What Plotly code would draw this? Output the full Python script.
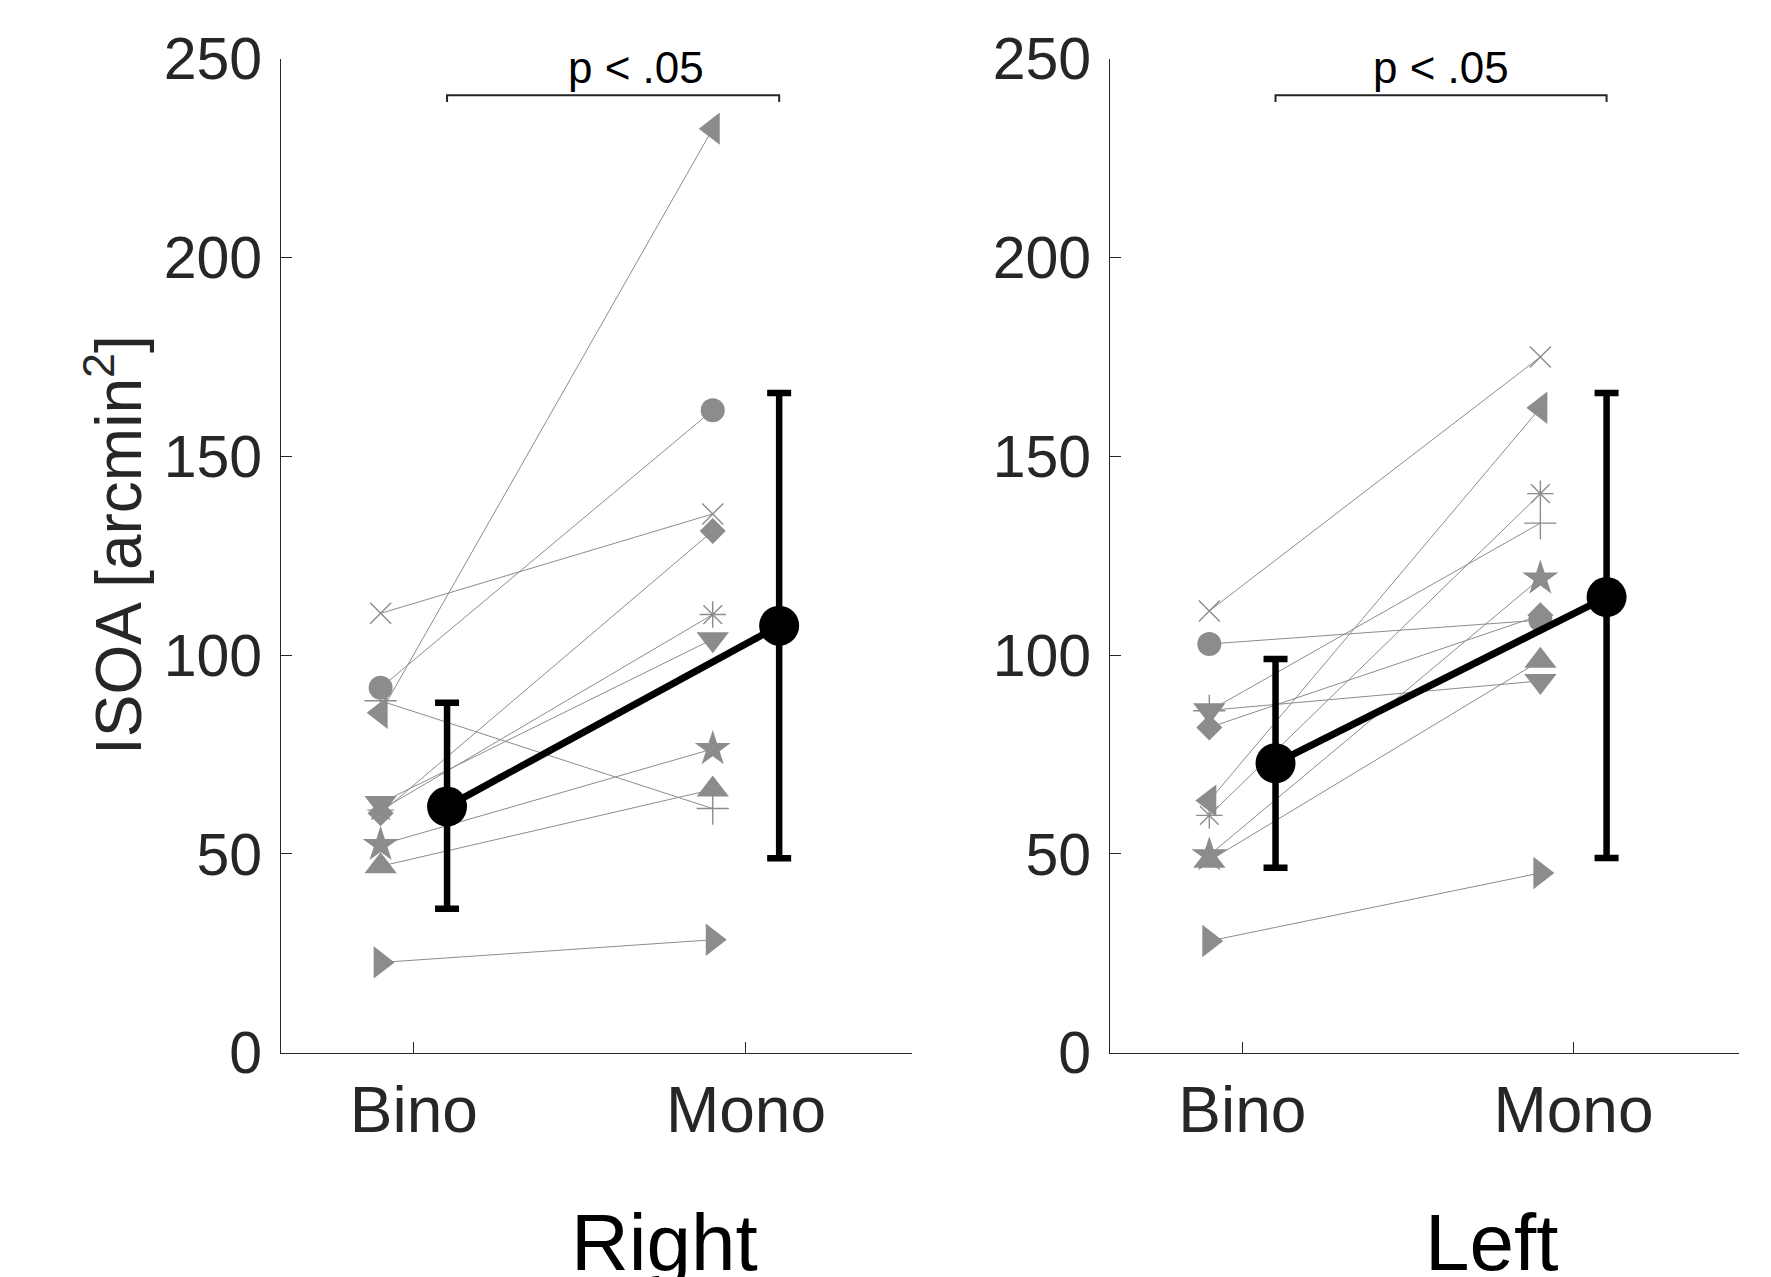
import plotly.graph_objects as go

# ---------------- data ----------------
conditions = ["Bino", "Mono"]
cond_x = [1, 2]
panel_titles = ["Right", "Left"]
y_ticks = [0, 50, 100, 150, 200, 250]

subject_symbols = ["x-thin-open", "circle", "cross-thin-open", "triangle-left",
                   "triangle-down", "diamond", "asterisk-open", "star",
                   "triangle-up", "triangle-right"]

# Right eye (left panel)
right_bino = [110.5, 91.8, 88.5, 85.5, 62.8, 60.2, 61.0, 52.3, 46.9, 22.7]
right_mono = [135.5, 161.6, 61.4, 232.4, 104.0, 131.2, 110.2, 76.4, 66.2, 28.4]
right_mean = [61.9, 107.4]
right_err_up = [26.1, 58.5]
right_err_down = [25.7, 58.5]

# Left eye (right panel)
left_bino = [111.1, 102.8, 86.0, 63.4, 86.1, 81.8, 59.7, 49.7, 48.3, 28.1]
left_mono = [175.0, 108.8, 133.2, 162.2, 93.5, 110.0, 140.6, 119.3, 98.6, 45.2]
left_mean = [72.8, 114.6]
left_err_up = [26.2, 51.3]
left_err_down = [26.3, 65.6]

sig_text = ["p < .05", "p < .05"]
sig_y = 240.8
sig_text_x = [1.67, 1.6]

# ---------------- style ----------------
GRAY = "#8c8c8c"
AX = "#262626"
FONT = "Liberation Sans, Arial, Helvetica, sans-serif"
indiv_offset = -0.1
mean_offset = 0.1

W, H = 1771, 1277
OFF = 8  # page body margin


def px(full_x):
    return (full_x - OFF) / W


def py(full_y):
    return (H - (full_y - OFF)) / H


sizes = {"x-thin-open": 21, "circle": 24, "cross-thin-open": 23, "triangle-left": 28,
         "triangle-down": 28, "diamond": 20, "asterisk-open": 22, "star": 27,
         "triangle-up": 28, "triangle-right": 28}

fig = go.Figure()

panels = [
    (right_bino, right_mono, right_mean, right_err_up, right_err_down, "x", "y"),
    (left_bino, left_mono, left_mean, left_err_up, left_err_down, "x2", "y2"),
]

for pi, (bino, mono, mean, eu, ed, xa, ya) in enumerate(panels):
    xs = [c + indiv_offset for c in cond_x]
    for i, sym in enumerate(subject_symbols):
        thin = sym.endswith("-open")
        fig.add_trace(go.Scatter(
            x=xs, y=[bino[i], mono[i]], mode="lines+markers",
            xaxis=xa, yaxis=ya, showlegend=False, cliponaxis=False,
            line=dict(color=GRAY, width=1),
            marker=dict(symbol=sym, size=sizes[sym], color=GRAY,
                        line=dict(color=GRAY, width=1.4 if thin else 0)),
        ))
    # mean with error bars
    fig.add_trace(go.Scatter(
        x=[c + mean_offset for c in cond_x], y=mean, mode="lines+markers",
        xaxis=xa, yaxis=ya, showlegend=False, cliponaxis=False,
        line=dict(color="black", width=7),
        marker=dict(symbol="circle", size=40, color="black"),
        error_y=dict(type="data", symmetric=False, array=eu, arrayminus=ed,
                     color="black", thickness=6.5, width=12),
    ))
    # significance bracket
    bx0 = cond_x[0] + mean_offset
    bx1 = cond_x[1] + mean_offset
    fig.add_trace(go.Scatter(
        x=[bx0, bx0, bx1, bx1], y=[sig_y - 1.7, sig_y, sig_y, sig_y - 1.7],
        mode="lines", xaxis=xa, yaxis=ya, showlegend=False, cliponaxis=False,
        line=dict(color=AX, width=2),
    ))
    fig.add_annotation(
        x=sig_text_x[pi], y=sig_y + 7, xref=xa, yref=ya, text=sig_text[pi],
        showarrow=False, font=dict(family=FONT, size=44, color="black"),
        xanchor="center", yanchor="middle",
    )

x_doms = [[px(281), px(912)], [px(1110), px(1739)]]
y_dom = [py(1052.7), py(58.7)]

xaxis_style = dict(
    range=[0.6, 2.5], tickvals=cond_x, ticktext=conditions, ticks="inside",
    ticklen=11, tickwidth=1, tickcolor=AX, showline=True, linecolor=AX,
    linewidth=1.2, showgrid=False, zeroline=False, automargin=False,
    tickfont=dict(family=FONT, size=64, color=AX), ticklabelstandoff=1,
)
yaxis_style = dict(
    range=[0, 250], tickvals=y_ticks, ticks="inside", ticklen=11, tickwidth=1,
    tickcolor=AX, showline=True, linecolor=AX, linewidth=1.2, showgrid=False,
    zeroline=False, automargin=False,
    tickfont=dict(family=FONT, size=59, color=AX), ticklabelstandoff=6,
)

fig.update_layout(
    width=W, height=H, margin=dict(l=0, r=0, t=0, b=0, pad=0),
    paper_bgcolor="white", plot_bgcolor="white", showlegend=False,
    xaxis=dict(domain=x_doms[0], anchor="y", **xaxis_style),
    yaxis=dict(domain=y_dom, anchor="x", **yaxis_style),
    xaxis2=dict(domain=x_doms[1], anchor="y2", **xaxis_style),
    yaxis2=dict(domain=y_dom, anchor="x2", **yaxis_style),
)

# y-axis title
fig.add_annotation(
    x=px(114), y=py(545), xref="paper", yref="paper",
    text="ISOA [arcmin<sup>2</sup>]", textangle=-90, showarrow=False,
    font=dict(family=FONT, size=64, color=AX), xanchor="center", yanchor="middle",
)
# panel titles
for name, cx in zip(panel_titles, [664, 1491]):
    fig.add_annotation(
        x=px(cx), y=py(1242), xref="paper", yref="paper", text=name,
        showarrow=False, font=dict(family=FONT, size=80, color="black"),
        xanchor="center", yanchor="middle",
    )

fig.write_html("out.html")
